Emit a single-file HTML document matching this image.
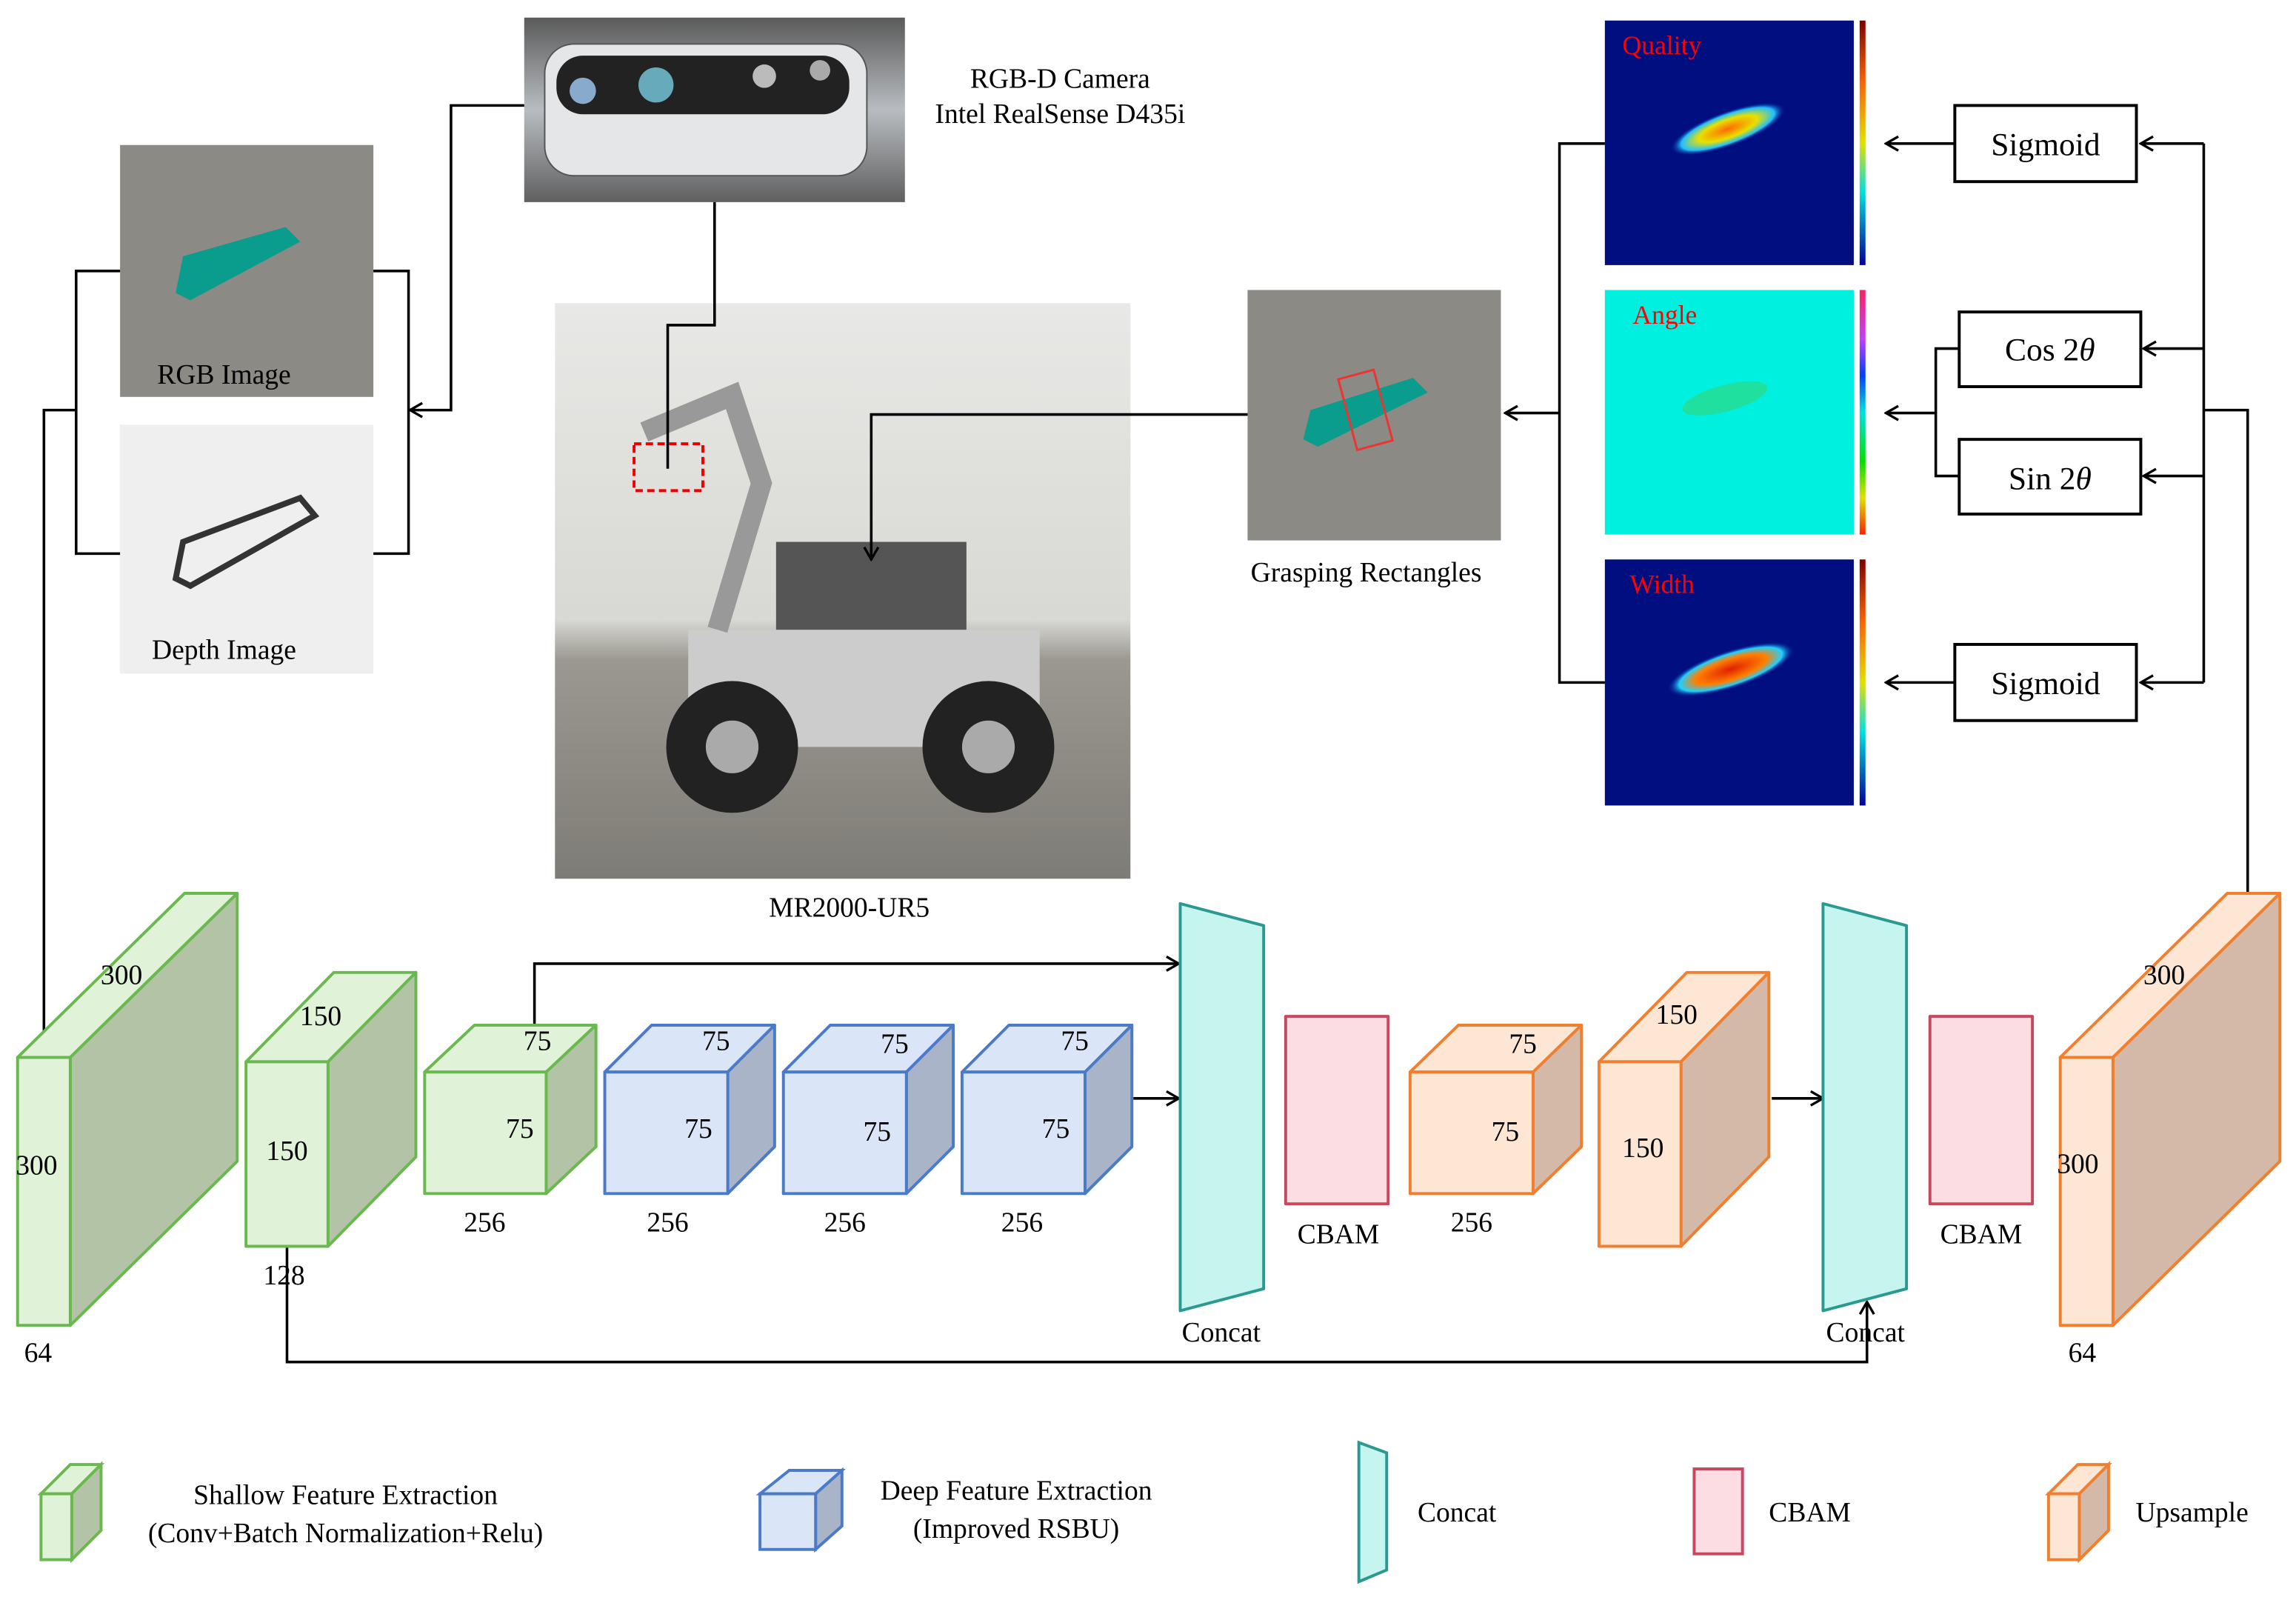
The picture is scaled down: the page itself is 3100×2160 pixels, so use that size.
<!DOCTYPE html>
<html><head><meta charset="utf-8"><style>html,body{margin:0;padding:0;background:#fff}svg{display:block}</style></head><body>
<svg xmlns="http://www.w3.org/2000/svg" width="3100" height="2160" viewBox="0 0 1568 1092.5" font-family="Liberation Serif, serif">
<defs>
<marker id="a" viewBox="0 0 10 10" refX="9" refY="5" markerWidth="12" markerHeight="12" orient="auto-start-reverse" markerUnits="userSpaceOnUse"><path d="M2,1 L9,5 L2,9" fill="none" stroke="#000" stroke-width="1.4"/></marker>
<linearGradient id="gcam" x1="0" y1="0" x2="0" y2="1"><stop offset="0" stop-color="#5a5a5a"/><stop offset="0.5" stop-color="#b8bcc0"/><stop offset="1" stop-color="#606060"/></linearGradient>
<linearGradient id="grob" x1="0" y1="0" x2="0" y2="1"><stop offset="0" stop-color="#e8e8e6"/><stop offset="0.55" stop-color="#d8d8d4"/><stop offset="0.62" stop-color="#9a9890"/><stop offset="1" stop-color="#7e7c76"/></linearGradient>
<radialGradient id="hq"><stop offset="0" stop-color="#ff6a00"/><stop offset="0.5" stop-color="#e8e000"/><stop offset="0.8" stop-color="#20c0ff"/><stop offset="1" stop-color="#000080" stop-opacity="0"/></radialGradient>
<radialGradient id="hw"><stop offset="0" stop-color="#e02000"/><stop offset="0.55" stop-color="#ff8000"/><stop offset="0.8" stop-color="#20d0ff"/><stop offset="1" stop-color="#000080" stop-opacity="0"/></radialGradient>
<linearGradient id="cb" x1="0" y1="0" x2="0" y2="1"><stop offset="0" stop-color="#800000"/><stop offset="0.25" stop-color="#ff6000"/><stop offset="0.5" stop-color="#e0e000"/><stop offset="0.7" stop-color="#00e0e0"/><stop offset="1" stop-color="#0000a0"/></linearGradient>
<linearGradient id="cb2" x1="0" y1="0" x2="0" y2="1"><stop offset="0" stop-color="#ff2060"/><stop offset="0.2" stop-color="#c040ff"/><stop offset="0.35" stop-color="#0040ff"/><stop offset="0.5" stop-color="#00e0e0"/><stop offset="0.7" stop-color="#00e000"/><stop offset="0.85" stop-color="#e0e000"/><stop offset="1" stop-color="#ff2000"/></linearGradient>
</defs>

<rect x="358" y="12" width="260" height="126" fill="url(#gcam)"/>
<rect x="372" y="30" width="220" height="90" rx="20" fill="#e4e6e8" stroke="#555"/>
<rect x="380" y="38" width="200" height="40" rx="18" fill="#222"/>
<circle cx="398" cy="62" r="9" fill="#8ac"/><circle cx="448" cy="58" r="12" fill="#6ab"/><circle cx="522" cy="52" r="8" fill="#bbb"/><circle cx="560" cy="48" r="7" fill="#aaa"/>
<text x="724" y="60" font-size="19" text-anchor="middle">RGB-D Camera</text>
<text x="724" y="84" font-size="19" text-anchor="middle">Intel RealSense D435i</text>

<rect x="82" y="99" width="173" height="172" fill="#8c8a84"/>
<path d="M120,200 L125,175 L195,155 L205,165 L130,205 Z" fill="#0a9c8c"/>
<text x="153" y="262" font-size="19" text-anchor="middle">RGB Image</text>
<rect x="82" y="290" width="173" height="170" fill="#efefef"/>
<path d="M120,395 L125,370 L205,340 L215,352 L130,400 Z" fill="none" stroke="#333" stroke-width="4"/>
<text x="153" y="450" font-size="19" text-anchor="middle">Depth Image</text>

<rect x="379" y="207" width="393" height="393" fill="url(#grob)"/>
<rect x="530" y="370" width="130" height="90" fill="#555"/>
<rect x="470" y="430" width="240" height="80" fill="#ccc"/>
<circle cx="500" cy="510" r="45" fill="#222"/><circle cx="500" cy="510" r="18" fill="#aaa"/>
<circle cx="675" cy="510" r="45" fill="#222"/><circle cx="675" cy="510" r="18" fill="#aaa"/>
<path d="M490,430 L520,330 L500,270 L440,295" fill="none" stroke="#999" stroke-width="14"/>
<rect x="433" y="303" width="47" height="32" fill="none" stroke="#e00" stroke-width="2" stroke-dasharray="5,3"/>
<text x="580" y="626" font-size="19" text-anchor="middle">MR2000-UR5</text>

<rect x="852" y="198" width="173" height="171" fill="#8c8a84"/>
<path d="M890,300 L895,280 L965,258 L975,268 L900,305 Z" fill="#0a9c8c"/>
<rect x="920" y="255" width="25" height="50" fill="none" stroke="#e33" stroke-width="1.5" transform="rotate(-15 932 280)"/>
<text x="933" y="397" font-size="19" text-anchor="middle">Grasping Rectangles</text>

<rect x="1096" y="14" width="170" height="167" fill="#000e80"/>
<ellipse cx="1180" cy="88" rx="42" ry="12" fill="url(#hq)" transform="rotate(-20 1180 88)"/>
<rect x="1270" y="14" width="4" height="167" fill="url(#cb)"/>
<text x="1108" y="37" font-size="18" fill="#ff0000">Quality</text>
<rect x="1096" y="198" width="170" height="167" fill="#00f0e0"/>
<ellipse cx="1178" cy="272" rx="30" ry="9" fill="#20e0a0" transform="rotate(-15 1178 272)"/>
<rect x="1270" y="198" width="4" height="167" fill="url(#cb2)"/>
<text x="1115" y="221" font-size="18" fill="#ff0000">Angle</text>
<rect x="1096" y="382" width="170" height="168" fill="#000e80"/>
<ellipse cx="1182" cy="457" rx="46" ry="13" fill="url(#hw)" transform="rotate(-18 1182 457)"/>
<rect x="1270" y="382" width="4" height="168" fill="url(#cb)"/>
<text x="1113" y="405" font-size="18" fill="#ff0000">Width</text>

<g fill="#fff" stroke="#000" stroke-width="2">
<rect x="1335" y="72" width="124" height="52"/>
<rect x="1338" y="213" width="124" height="51"/>
<rect x="1338" y="300" width="124" height="51"/>
<rect x="1335" y="440" width="124" height="52"/>
</g>
<g font-size="22" text-anchor="middle">
<text x="1397" y="106">Sigmoid</text>
<text x="1400" y="246">Cos 2<tspan font-style="italic">θ</tspan></text>
<text x="1400" y="334">Sin 2<tspan font-style="italic">θ</tspan></text>
<text x="1397" y="474">Sigmoid</text>
</g>

<g fill="none" stroke="#000" stroke-width="1.8">
<path d="M1505,98 V466"/>
<path d="M1505,98 H1462" marker-end="url(#a)"/>
<path d="M1505,238 H1464" marker-end="url(#a)"/>
<path d="M1505,325 H1464" marker-end="url(#a)"/>
<path d="M1505,466 H1462" marker-end="url(#a)"/>
<path d="M1535,610 V280 H1505"/>
<path d="M1335,98 H1288" marker-end="url(#a)"/>
<path d="M1335,466 H1288" marker-end="url(#a)"/>
<path d="M1338,238 H1322 V325 H1338"/>
<path d="M1322,282 H1288" marker-end="url(#a)"/>
<path d="M1096,98 H1065 V466 H1096"/>
<path d="M1065,282 H1028" marker-end="url(#a)"/>
<path d="M852,283 H595 V382" marker-end="url(#a)"/>
<path d="M358,72 H308 V280 H280" marker-end="url(#a)"/>
<path d="M488,138 V222 H456 V320"/>
<path d="M255,185 H279 V378 H255"/>
<path d="M82,185 H52 V378 H82"/>
<path d="M52,280 H30 V721" marker-end="url(#a)"/>
<path d="M365,700 V658 H805" marker-end="url(#a)"/>
<path d="M774,750 H805" marker-end="url(#a)"/>
<path d="M1210,750 H1245" marker-end="url(#a)"/>
<path d="M196,851 V930 H1275 V889" marker-end="url(#a)"/>
</g>

<g stroke-width="2" stroke-linejoin="round">
<g stroke="#6cb850"><path d="M12,722 L126,610 L162,610 L48,722 Z" fill="#e0f2d8"/><path d="M48,722 L162,610 L162,793 L48,905 Z" fill="#b3c4a6"/><rect x="12" y="722" width="36" height="183" fill="#e0f2d8"/></g>
<g stroke="#6cb850"><path d="M168,725 L228,664 L284,664 L224,725 Z" fill="#e0f2d8"/><path d="M224,725 L284,664 L284,790 L224,851 Z" fill="#b3c4a6"/><rect x="168" y="725" width="56" height="126" fill="#e0f2d8"/></g>
<g stroke="#6cb850"><path d="M290,732 L324,700 L407,700 L373,732 Z" fill="#e0f2d8"/><path d="M373,732 L407,700 L407,783 L373,815 Z" fill="#b3c4a6"/><rect x="290" y="732" width="83" height="83" fill="#e0f2d8"/></g>
<g stroke="#4a7ac8">
<path d="M413,732 L445,700 L529,700 L497,732 Z" fill="#dae6f8"/><path d="M497,732 L529,700 L529,783 L497,815 Z" fill="#aab4c8"/><rect x="413" y="732" width="84" height="83" fill="#dae6f8"/>
<path d="M535,732 L567,700 L651,700 L619,732 Z" fill="#dae6f8"/><path d="M619,732 L651,700 L651,783 L619,815 Z" fill="#aab4c8"/><rect x="535" y="732" width="84" height="83" fill="#dae6f8"/>
<path d="M657,732 L689,700 L773,700 L741,732 Z" fill="#dae6f8"/><path d="M741,732 L773,700 L773,783 L741,815 Z" fill="#aab4c8"/><rect x="657" y="732" width="84" height="83" fill="#dae6f8"/>
</g>
<g stroke="#f08030">
<path d="M963,732 L996,700 L1080,700 L1047,732 Z" fill="#fde6d4"/><path d="M1047,732 L1080,700 L1080,783 L1047,815 Z" fill="#d4b8a8"/><rect x="963" y="732" width="84" height="83" fill="#fde6d4"/>
<path d="M1092,725 L1152,664 L1208,664 L1148,725 Z" fill="#fde6d4"/><path d="M1148,725 L1208,664 L1208,790 L1148,851 Z" fill="#d4b8a8"/><rect x="1092" y="725" width="56" height="126" fill="#fde6d4"/>
<path d="M1407,722 L1521,610 L1557,610 L1443,722 Z" fill="#fde6d4"/><path d="M1443,722 L1557,610 L1557,793 L1443,905 Z" fill="#d4b8a8"/><rect x="1407" y="722" width="36" height="183" fill="#fde6d4"/>
</g>
<g stroke="#2a9a90" fill="#c6f4ee"><path d="M806,617 L863,632 L863,880 L806,895 Z"/><path d="M1245,617 L1302,632 L1302,880 L1245,895 Z"/></g>
<g stroke="#c84860" fill="#fddde4"><rect x="878" y="694" width="70" height="128"/><rect x="1318" y="694" width="70" height="128"/></g>
</g>

<g font-size="19" text-anchor="middle">
<text x="83" y="672">300</text><text x="25" y="802">300</text><text x="26" y="930">64</text>
<text x="219" y="700">150</text><text x="196" y="792">150</text><text x="194" y="877">128</text>
<text x="367" y="717">75</text><text x="355" y="777">75</text><text x="331" y="841">256</text>
<text x="489" y="717">75</text><text x="477" y="777">75</text><text x="456" y="841">256</text>
<text x="611" y="719">75</text><text x="599" y="779">75</text><text x="577" y="841">256</text>
<text x="734" y="717">75</text><text x="721" y="777">75</text><text x="698" y="841">256</text>
<text x="834" y="916">Concat</text><text x="914" y="849">CBAM</text>
<text x="1040" y="719">75</text><text x="1028" y="779">75</text><text x="1005" y="841">256</text>
<text x="1145" y="699">150</text><text x="1122" y="790">150</text>
<text x="1274" y="916">Concat</text><text x="1353" y="849">CBAM</text>
<text x="1478" y="672">300</text><text x="1419" y="801">300</text><text x="1422" y="930">64</text>
</g>

<g stroke-width="2">
<g stroke="#6cb850"><path d="M28,1020 L48,1000 L69,1000 L49,1020 Z" fill="#e0f2d8"/><path d="M49,1020 L69,1000 L69,1045 L49,1065 Z" fill="#b3c4a6"/><rect x="28" y="1020" width="21" height="45" fill="#e0f2d8"/></g>
<g stroke="#4a7ac8"><path d="M519,1020 L539,1004 L575,1004 L557,1020 Z" fill="#dae6f8"/><path d="M557,1020 L575,1004 L575,1042 L557,1058 Z" fill="#aab4c8"/><rect x="519" y="1020" width="38" height="38" fill="#dae6f8"/></g>
<path d="M928,985 L947,992 L947,1072 L928,1080 Z" stroke="#2a9a90" fill="#c6f4ee"/>
<rect x="1157" y="1003" width="33" height="58" stroke="#c84860" fill="#fddde4"/>
<g stroke="#f08030"><path d="M1399,1020 L1419,1000 L1440,1000 L1420,1020 Z" fill="#fde6d4"/><path d="M1420,1020 L1440,1000 L1440,1045 L1420,1065 Z" fill="#d4b8a8"/><rect x="1399" y="1020" width="21" height="45" fill="#fde6d4"/></g>
</g>
<g font-size="19" text-anchor="middle">
<text x="236" y="1027">Shallow Feature Extraction</text>
<text x="236" y="1053">(Conv+Batch Normalization+Relu)</text>
<text x="694" y="1024">Deep Feature Extraction</text>
<text x="694" y="1050">(Improved RSBU)</text>
<text x="995" y="1039">Concat</text>
<text x="1236" y="1039">CBAM</text>
<text x="1497" y="1039">Upsample</text>
</g>
</svg>
</body></html>
